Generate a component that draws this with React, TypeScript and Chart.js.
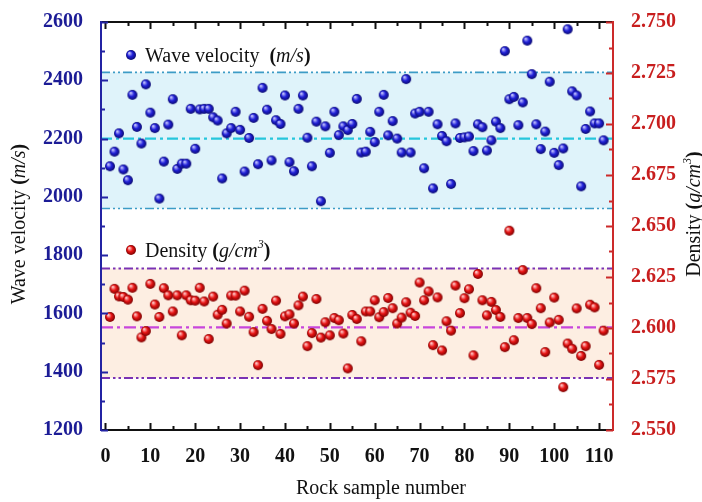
import React, { useEffect, useRef } from "react";
import { Chart, registerables } from "chart.js";

Chart.register(...registerables);

// Wave velocity (m/s) of rock samples 1..111
const velocity = [
  2105, 2155, 2218, 2094, 2057, 2350, 2240, 2183, 2386, 2289,
  2236, 1994, 2121, 2248, 2335, 2096, 2114, 2114, 2302, 2165,
  2300, 2302, 2302, 2273, 2262, 2063, 2218, 2236, 2292, 2230,
  2087, 2202, 2271, 2112, 2374, 2299, 2125, 2263, 2250, 2348,
  2119, 2088, 2302, 2348, 2203, 2105, 2258, 1985, 2242, 2151,
  2292, 2212, 2242, 2229, 2250, 2336, 2152, 2155, 2223, 2188,
  2292, 2350, 2211, 2260, 2200, 2152, 2404, 2152, 2286, 2292,
  2098, 2292, 2029, 2249, 2209, 2191, 2044, 2252, 2202, 2204,
  2207, 2157, 2249, 2239, 2159, 2194, 2258, 2236, 2500, 2335,
  2343, 2246, 2324, 2536, 2421, 2249, 2164, 2224, 2395, 2151,
  2109, 2166, 2575, 2362, 2348, 2036, 2233, 2293, 2252, 2252,
  2194,
];

// Density (g/cm3) of rock samples 1..111
const density = [
  2.6054, 2.6192, 2.6155, 2.6152, 2.6139, 2.6197, 2.6057, 2.5954, 2.5985, 2.6216,
  2.6115, 2.6054, 2.6195, 2.616, 2.6081, 2.616, 2.5964, 2.616, 2.6136, 2.6134,
  2.6197, 2.613, 2.5946, 2.6154, 2.6065, 2.6089, 2.6022, 2.6159, 2.6159, 2.6081,
  2.6183, 2.6055, 2.598, 2.5818, 2.6094, 2.6035, 2.5995, 2.6134, 2.5971, 2.6057,
  2.6067, 2.6022, 2.6111, 2.6154, 2.5911, 2.5975, 2.6142, 2.5953, 2.6028, 2.5964,
  2.6049, 2.6038, 2.5973, 2.5802, 2.6064, 2.6044, 2.5935, 2.6081, 2.6081, 2.6136,
  2.6053, 2.6078, 2.6147, 2.6097, 2.6022, 2.6051, 2.6126, 2.6075, 2.6059, 2.6223,
  2.6136, 2.6179, 2.5916, 2.615, 2.589, 2.6033, 2.5987, 2.6208, 2.6073, 2.6146,
  2.619, 2.5866, 2.6265, 2.6136, 2.6062, 2.6128, 2.6088, 2.6054, 2.5906, 2.6477,
  2.594, 2.6049, 2.6284, 2.6049, 2.6019, 2.6195, 2.6097, 2.5882, 2.6027, 2.6149,
  2.604, 2.571, 2.5924, 2.5898, 2.6096, 2.5863, 2.5911, 2.6114, 2.6101, 2.5819,
  2.5987,
];

const sampleNumbers = velocity.map((_, i) => i + 1);

const xTicks = [0, 10, 20, 30, 40, 50, 60, 70, 80, 90, 100, 110];
const velocityTicks = [1200, 1400, 1600, 1800, 2000, 2200, 2400, 2600];
const densityTicks = [2.55, 2.575, 2.6, 2.625, 2.65, 2.675, 2.7, 2.725, 2.75];

// [lower, mean, upper]
const velocityBand = [1960, 2200, 2427];
const densityBand = [2.5755, 2.6003, 2.6292];

const FAM = "'Liberation Serif', 'Times New Roman', Times, serif";
const BLUE_AXIS = "#2323a3";
const BLUE_LABEL = "#1c1c96";
const RED_AXIS = "#cc2a2a";
const RED_LABEL = "#c81e1e";

type Part = { t: string; it?: boolean; b?: boolean; sup?: boolean };

function drawRich(
  ctx: CanvasRenderingContext2D,
  parts: Part[],
  x: number,
  y: number,
  size: number,
  align: "left" | "center",
  rot = 0
) {
  const fontOf = (p: Part) =>
    `${p.it ? "italic " : ""}${p.b ? "bold " : ""}${p.sup ? Math.round(size * 0.62) : size}px ${FAM}`;
  ctx.save();
  ctx.translate(x, y);
  ctx.rotate(rot);
  let total = 0;
  for (const p of parts) {
    ctx.font = fontOf(p);
    total += ctx.measureText(p.t).width;
  }
  let cx = align === "center" ? -total / 2 : 0;
  ctx.textBaseline = "alphabetic";
  ctx.textAlign = "left";
  ctx.fillStyle = "#111";
  const base = size * 0.33;
  for (const p of parts) {
    ctx.font = fontOf(p);
    ctx.fillText(p.t, cx, p.sup ? base - size * 0.45 : base);
    cx += ctx.measureText(p.t).width;
  }
  ctx.restore();
}

function makeSphere(light: string, base: string, dark: string, r: number) {
  const size = r * 2 + 2;
  const c = document.createElement("canvas");
  c.width = size;
  c.height = size;
  const g = c.getContext("2d")!;
  const cx = size / 2;
  const cy = size / 2;
  const grad = g.createRadialGradient(cx - r * 0.38, cy - r * 0.42, r * 0.08, cx, cy, r);
  grad.addColorStop(0, light);
  grad.addColorStop(0.5, base);
  grad.addColorStop(1, dark);
  g.fillStyle = grad;
  g.beginPath();
  g.arc(cx, cy, r, 0, Math.PI * 2);
  g.fill();
  return c;
}

export default function App() {
  const ref = useRef<HTMLCanvasElement | null>(null);

  useEffect(() => {
    if (!ref.current) return;
    const blueBall = makeSphere("#c8c8ff", "#2020d8", "#0a0a70", 5);
    const redBall = makeSphere("#ffd0d0", "#e81414", "#7a0000", 5);

    const tickFont = { family: FAM, size: 20, weight: "bold" as const };

    const hline = (
      ctx: CanvasRenderingContext2D,
      x0: number,
      x1: number,
      y: number,
      color: string,
      w: number,
      dash: number[]
    ) => {
      ctx.save();
      ctx.strokeStyle = color;
      ctx.lineWidth = w;
      ctx.setLineDash(dash);
      ctx.beginPath();
      ctx.moveTo(x0, y);
      ctx.lineTo(x1, y);
      ctx.stroke();
      ctx.restore();
    };

    const decor = {
      id: "decor",
      beforeDatasetsDraw(chart: any) {
        const { ctx, chartArea: a, scales } = chart;
        const y = scales.y;
        const y1 = scales.y1;
        const w = a.right - a.left;
        const bLo = y.getPixelForValue(velocityBand[0]);
        const bMid = y.getPixelForValue(velocityBand[1]);
        const bHi = y.getPixelForValue(velocityBand[2]);
        ctx.save();
        ctx.fillStyle = "#dff3fa";
        ctx.fillRect(a.left, bHi, w, bLo - bHi);
        const oLo = y1.getPixelForValue(densityBand[0]);
        const oMid = y1.getPixelForValue(densityBand[1]);
        const oHi = y1.getPixelForValue(densityBand[2]);
        ctx.fillStyle = "#fdeee2";
        ctx.fillRect(a.left, oHi, w, oLo - oHi);
        ctx.restore();
        hline(ctx, a.left, a.right, bHi, "#3c9cc6", 1.6, [9, 3, 2, 3, 2, 3]);
        hline(ctx, a.left, a.right, bLo, "#3c9cc6", 1.6, [9, 3, 2, 3, 2, 3]);
        hline(ctx, a.left, a.right, bMid, "#26c6dc", 2.2, [11, 4, 3, 4]);
        hline(ctx, a.left, a.right, oHi, "#7a32b4", 2, [9, 3, 2.5, 3, 2.5, 3]);
        hline(ctx, a.left, a.right, oLo, "#7a32b4", 2, [9, 3, 2.5, 3, 2.5, 3]);
        hline(ctx, a.left, a.right, oMid, "#c846dc", 2.2, [12, 4, 3, 4]);
      },
      afterDatasetsDraw(chart: any) {
        const { ctx, chartArea: a, scales } = chart;
        const x = scales.x;
        const y = scales.y;
        const y1 = scales.y1;
        const MAJ = 7;
        const MIN = 4;
        ctx.save();
        ctx.lineWidth = 2;
        ctx.setLineDash([]);
        ctx.strokeStyle = "#111";
        ctx.beginPath();
        ctx.moveTo(a.left, a.top);
        ctx.lineTo(a.right, a.top);
        ctx.moveTo(a.left, a.bottom);
        ctx.lineTo(a.right, a.bottom);
        for (let i = 0; i < xTicks.length; i++) {
          const v = xTicks[i];
          const px = Math.round(x.getPixelForValue(v)) + 0.5;
          ctx.moveTo(px, a.top);
          ctx.lineTo(px, a.top + MAJ);
          ctx.moveTo(px, a.bottom);
          ctx.lineTo(px, a.bottom - MAJ);
          if (i < xTicks.length - 1) {
            const pm = Math.round(x.getPixelForValue((v + xTicks[i + 1]) / 2)) + 0.5;
            ctx.moveTo(pm, a.top);
            ctx.lineTo(pm, a.top + MIN);
            ctx.moveTo(pm, a.bottom);
            ctx.lineTo(pm, a.bottom - MIN);
          }
        }
        ctx.stroke();
        ctx.strokeStyle = BLUE_AXIS;
        ctx.beginPath();
        ctx.moveTo(a.left, a.top - 1);
        ctx.lineTo(a.left, a.bottom + 1);
        for (let i = 0; i < velocityTicks.length; i++) {
          const v = velocityTicks[i];
          const py = Math.round(y.getPixelForValue(v)) + 0.5;
          ctx.moveTo(a.left, py);
          ctx.lineTo(a.left + MAJ, py);
          if (i < velocityTicks.length - 1) {
            const pm = Math.round(y.getPixelForValue((v + velocityTicks[i + 1]) / 2)) + 0.5;
            ctx.moveTo(a.left, pm);
            ctx.lineTo(a.left + MIN, pm);
          }
        }
        ctx.stroke();
        ctx.strokeStyle = RED_AXIS;
        ctx.beginPath();
        ctx.moveTo(a.right, a.top - 1);
        ctx.lineTo(a.right, a.bottom + 1);
        for (let i = 0; i < densityTicks.length; i++) {
          const v = densityTicks[i];
          const py = Math.round(y1.getPixelForValue(v)) + 0.5;
          ctx.moveTo(a.right, py);
          ctx.lineTo(a.right - MAJ, py);
          if (i < densityTicks.length - 1) {
            const pm = Math.round(y1.getPixelForValue((v + densityTicks[i + 1]) / 2)) + 0.5;
            ctx.moveTo(a.right, pm);
            ctx.lineTo(a.right - MIN, pm);
          }
        }
        ctx.stroke();
        ctx.restore();

        const lx = a.left + 30;
        ctx.drawImage(blueBall, lx - blueBall.width / 2, a.top + 33 - blueBall.height / 2);
        drawRich(
          ctx,
          [{ t: "Wave velocity  " }, { t: "(", b: true }, { t: "m/s", it: true }, { t: ")", b: true }],
          lx + 14,
          a.top + 33,
          20,
          "left"
        );
        ctx.drawImage(redBall, lx - redBall.width / 2, a.top + 228 - redBall.height / 2);
        drawRich(
          ctx,
          [{ t: "Density " }, { t: "(", b: true }, { t: "g/cm", it: true }, { t: "3", it: true, sup: true }, { t: ")", b: true }],
          lx + 14,
          a.top + 228,
          20,
          "left"
        );

        const cy = (a.top + a.bottom) / 2;
        drawRich(
          ctx,
          [{ t: "Wave velocity " }, { t: "(", b: true }, { t: "m/s", it: true }, { t: ")", b: true }],
          18,
          cy - 2,
          20,
          "center",
          -Math.PI / 2
        );
        drawRich(
          ctx,
          [{ t: "Density " }, { t: "(", b: true }, { t: "g/cm", it: true }, { t: "3", it: true, sup: true }, { t: ")", b: true }],
          a.right + 80,
          cy - 12,
          20,
          "center",
          -Math.PI / 2
        );
        drawRich(ctx, [{ t: "Rock sample number" }], (a.left + a.right) / 2 + 24, a.bottom + 57, 20, "center");
      },
    };

    const chart = new Chart(ref.current, {
      type: "scatter",
      data: {
        datasets: [
          {
            label: "Wave velocity (m/s)",
            data: sampleNumbers.map((s, i) => ({ x: s, y: velocity[i] })),
            yAxisID: "y",
            pointStyle: blueBall,
            pointRadius: 5,
            pointHoverRadius: 5,
          },
          {
            label: "Density (g/cm3)",
            data: sampleNumbers.map((s, i) => ({ x: s, y: density[i] })),
            yAxisID: "y1",
            pointStyle: redBall,
            pointRadius: 5,
            pointHoverRadius: 5,
          },
        ],
      },
      options: {
        responsive: false,
        animation: false,
        layout: { padding: { top: 17, left: 0, right: 0, bottom: 0 } },
        plugins: { legend: { display: false }, tooltip: { enabled: false } },
        scales: {
          x: {
            type: "linear",
            position: "bottom",
            min: -1,
            max: 113.1,
            afterBuildTicks: (s: any) => {
              s.ticks = xTicks.map((v) => ({ value: v }));
            },
            afterFit: (s: any) => {
              s.height = 72;
            },
            grid: { display: false },
            border: { display: false },
            ticks: {
              font: tickFont,
              color: "#111",
              padding: 7,
              autoSkip: false,
              maxRotation: 0,
              callback: (v: any) => String(v),
            },
          },
          y: {
            type: "linear",
            position: "left",
            min: 1200,
            max: 2600,
            afterBuildTicks: (s: any) => {
              s.ticks = velocityTicks.map((v) => ({ value: v }));
            },
            afterFit: (s: any) => {
              s.width = 101;
            },
            grid: { display: false },
            border: { display: false },
            ticks: { font: tickFont, color: BLUE_LABEL, padding: 10, callback: (v: any) => String(v) },
          },
          y1: {
            type: "linear",
            position: "right",
            min: 2.55,
            max: 2.75,
            afterBuildTicks: (s: any) => {
              s.ticks = densityTicks.map((v) => ({ value: v }));
            },
            afterFit: (s: any) => {
              s.width = 89;
            },
            grid: { display: false },
            border: { display: false },
            ticks: {
              font: tickFont,
              color: RED_LABEL,
              padding: 10,
              callback: (v: any) => Number(v).toFixed(3),
            },
          },
        },
      },
      plugins: [decor],
    });
    return () => chart.destroy();
  }, []);

  return (
    <div style={{ position: "absolute", left: 0, top: 0, width: 702, height: 502, background: "#fff" }}>
      <canvas ref={ref} width={702} height={502} style={{ display: "block" }} />
    </div>
  );
}
